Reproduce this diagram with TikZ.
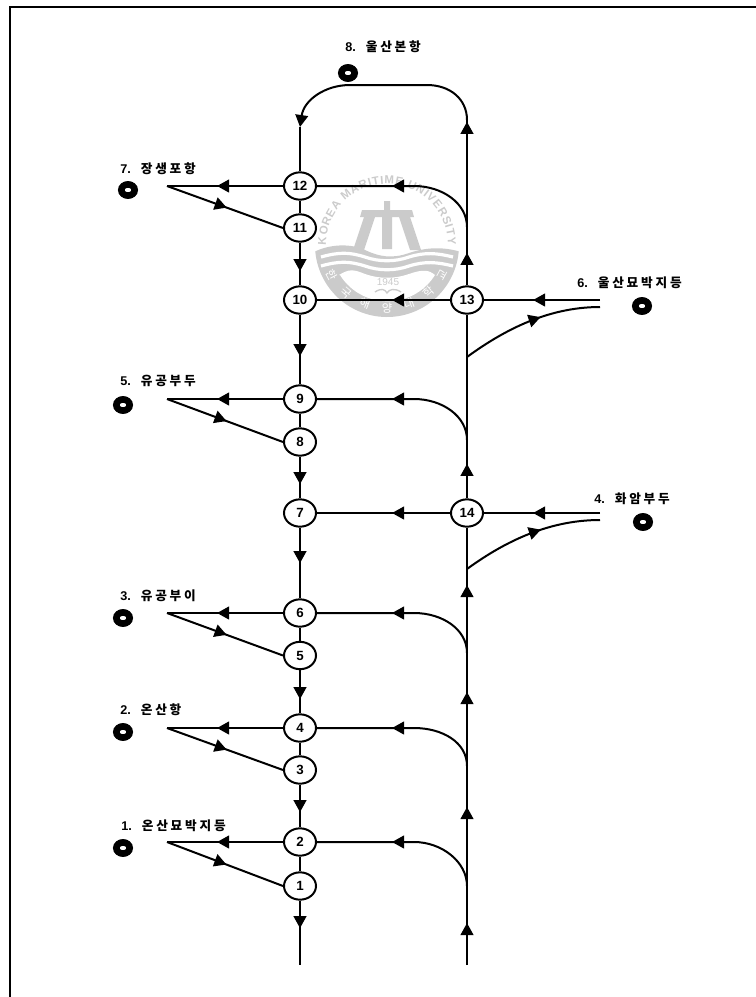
\documentclass[tikz,border=0pt]{standalone}
\usepackage{fontspec}
\setmainfont{Liberation Sans}
\newfontfamily\kor[LetterSpace=22]{Noto Sans CJK KR}
\newfontfamily\korseal{Noto Sans CJK KR}
\usetikzlibrary{shapes.geometric,arrows.meta,calc,decorations.markings,decorations.text}
\definecolor{sealgray}{RGB}{203,203,203}
\newcommand{\portname}[2]{{\bfseries\fontsize{9.5}{10}\selectfont #1}\hspace{7.5pt}{\kor\bfseries #2}}

\begin{document}
\begin{tikzpicture}[
    x=0.75pt, y=-0.75pt,
    route/.style={line width=1.5pt, line cap=butt},
    flow/.style={postaction={decorate, decoration={markings, mark=at position #1*0.75pt with {\arrow{Triangle[length=9pt,width=9.5pt]}}}}},
    stopmark/.style={ellipse, draw=black, fill=white, line width=1.5pt, minimum width=24pt, minimum height=20.5pt, inner sep=0pt, font=\fontsize{10}{10}\selectfont\bfseries},
    anchormark/.style={ellipse, draw=black, fill=white, line width=5pt, minimum width=10pt, minimum height=8.4pt, inner sep=0pt},
    portlabel/.style={anchor=west, inner sep=0pt, font=\fontsize{9.5}{10}\selectfont}
]
\useasboundingbox (0,0) rectangle (756,997);

% Page frame
\draw[line width=1.5pt] (756,7) -- (9.5,7) -- (9.5,997);

% University seal behind the routes
\begin{scope}[shift={(387,245)}, y=0.75pt]
    \fill[sealgray] (185:72) arc[start angle=185, end angle=355, radius=72]
        .. controls (56,-2) and (40,-2) .. (22,-8) .. controls (5,-14) and (-8,-12) .. (-24,-4)
        .. controls (-40,2) and (-58,0) .. cycle;
    \foreach \y in {-13,-22} {
        \draw[white, line width=2.4pt] (-66,\y+1) .. controls (-48,\y+6) and (-38,\y+6) .. (-22,\y+1)
            .. controls (-8,\y-4) and (8,\y-4) .. (22,\y+1) .. controls (38,\y+6) and (50,\y+5) .. (66,\y+1);
    }
    \fill[white] (-48,-30) .. controls (-38,-24) and (-34,-24) .. (-22,-29)
        .. controls (-8,-34) and (8,-34) .. (22,-29) .. controls (36,-24) and (42,-25) .. (48,-30)
        arc[start angle=-32, end angle=-148, radius=56] -- cycle;
    \node[text=sealgray, font=\fontsize{7.5}{8}\selectfont, inner sep=0pt] (sealyear) at (1,-37) {1945};
    \draw[sealgray, line width=1pt] (-12,-47) .. controls (-6,-43) and (-2,-44) .. (0,-48) .. controls (2,-44) and (8,-43) .. (14,-47);
    % tower
    \fill[sealgray] (-3,44) -- (3,44) -- (3,35) -- (25,35) -- (27,28) -- (23,28) -- (34,-5) -- (23,-5) -- (12,28) -- (5,28) -- (5,-4) -- (-5,-4) -- (-5,28) -- (-12,28) -- (-23,-5) -- (-34,-5) -- (-23,28) -- (-27,28) -- (-25,35) -- (-3,35) -- cycle;
    % seal lettering
    \path[decorate, decoration={text along path, text align={fit to path}, text={|\bfseries\fontsize{8.6}{9}\selectfont\color{sealgray}|KOREA MARITIME UNIVERSITY}}]
        (180:61) arc[start angle=180, end angle=0, radius=61];
    \path[decorate, decoration={text along path, text align={fit to path}, text={|\korseal\fontsize{8.5}{9}\selectfont\color{white}|한국해양대학교}}]
        (204:67) arc[start angle=204, end angle=336, radius=67];
\end{scope}

% Numbered stops on both routes
\foreach \n/\y in {12/186,11/228,10/300,9/399,8/442,7/513,6/613,5/655.5,4/728,3/770,2/842,1/886} {
    \node[stopmark] (n\n) at (300,\y) {\n};
}
\node[stopmark] (n13) at (467,300) {13};
\node[stopmark] (n14) at (467,513) {14};

% Free ends and turning points
\coordinate (startL) at (300,965);
\coordinate (startR) at (467,965);
\coordinate (turnR) at (467,120);
\coordinate (turnL) at (300,127);
\coordinate (branch13) at (467,357);
\coordinate (branch14) at (467,569);

% Main channel going down
\foreach \a/\b/\d in {n11/n10/28.5, n10/n9/41.5, n8/n7/27.5, n7/n6/35.5, n5/n4/29, n3/n2/27.5, n1/startL/27.5} {
    \draw[route, flow=\d] (\a) -- (\b);
}
\foreach \a/\b in {n12/n11, n9/n8, n6/n5, n4/n3, n2/n1, turnL/n12} {
    \draw[route] (\a) -- (\b);
}

% Channel going up
\draw[route, flow=42, flow=158, flow=273, flow=380] (startR) -- (n14);
\draw[route, flow=34.5] (n14) -- (n13);
\draw[route, flow=32.5, flow=163.5] (n13) -- (turnR);
\draw[route, -{Triangle[length=9pt,width=9.5pt]}] (turnR) .. controls (467,99) and (450,85) .. (427,85) -- (350,85) .. controls (325,85) and (304,100) .. (turnL);

% Branches from the up channel to the stops
\foreach \n/\y in {12/227,9/440,6/653,4/766,2/886} {
    \coordinate (join\n) at (467,\y);
    \draw[route, flow=-75] (join\n) .. controls +(0,-24) and +(28,0) .. ($(join\n |- n\n)+(-53,0)$) -- (n\n);
}
\draw[route, flow=-75] (n13) -- (n10);
\draw[route, flow=-75] (n14) -- (n7);

% Berths on the left side
\foreach \up/\low/\y/\name in {n12/n11/186/berth7, n9/n8/399/berth5, n6/n5/613/berth3, n4/n3/728/berth2, n2/n1/842/berth1} {
    \coordinate (\name) at (167,\y);
    \draw[route, flow=-50] (\up) -- (\name);
    \draw[route, flow=63.5] (\name) -- (\low.west);
}

% Berths on the right side
\coordinate (in6) at (600,300);
\coordinate (in4) at (600,513);
\coordinate (out6) at (600,307);
\coordinate (out4) at (600,520);
\draw[route, flow=67] (in6) -- (n13);
\draw[route, flow=67] (in4) -- (n14);
\draw[route, flow=84] (branch13) .. controls (500,333) and (545,307) .. (out6);
\draw[route, flow=84] (branch14) .. controls (500,545) and (545,520) .. (out4);

% Anchorage marks
\foreach \n/\x/\y in {8/348/73, 7/128/190, 6/642/306, 5/123/405, 4/643/522, 3/123/618, 2/123/732, 1/123/848} {
    \node[anchormark] (mark\n) at (\x,\y) {};
}

% Labels
\node[portlabel] (lab8) at (345,47) {\portname{8.}{울산본항}};
\node[portlabel] (lab7) at (120,169) {\portname{7.}{장생포항}};
\node[portlabel] (lab6) at (577,283) {\portname{6.}{울산묘박지등}};
\node[portlabel] (lab5) at (120,381) {\portname{5.}{유공부두}};
\node[portlabel] (lab4) at (594,499) {\portname{4.}{화암부두}};
\node[portlabel] (lab3) at (120,596) {\portname{3.}{유공부이}};
\node[portlabel] (lab2) at (120,710) {\portname{2.}{온산항}};
\node[portlabel] (lab1) at (121,826) {\portname{1.}{온산묘박지등}};

\end{tikzpicture}
\end{document}
